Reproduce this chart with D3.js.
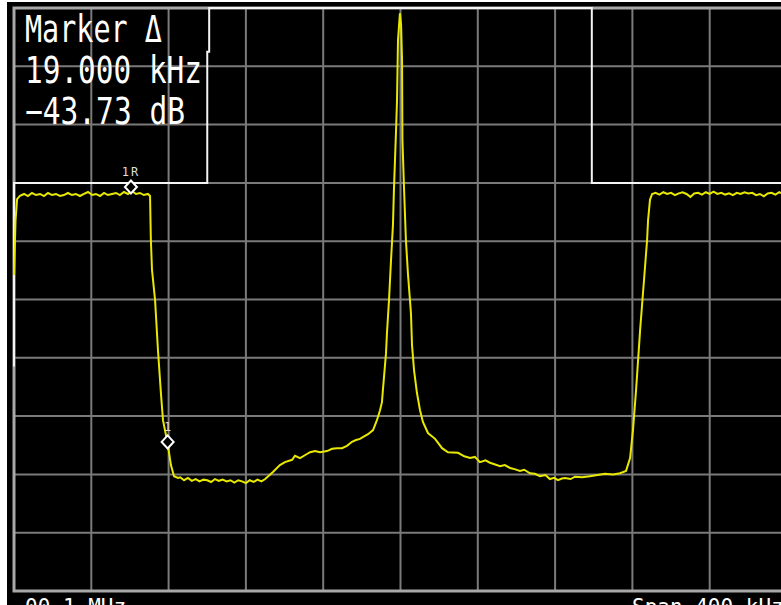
<!DOCTYPE html>
<html><head><meta charset="utf-8">
<script src="https://cdn.jsdelivr.net/npm/d3@7"></script>
<style>html,body{margin:0;padding:0;background:#fff;overflow:hidden}svg{display:block}</style>
</head><body>
<script>
// ---- data ----
const traceFreq = [-200,-199.2,-198.4,-196.9,-194.8,-192.8,-190.7,-188.6,-186.5,-184.5,-182.4,-180.3,-178.3,-176.2,-174.2,-172.1,-170,-168,-165.9,-163.8,-161.7,-159.6,-157.6,-155.5,-153.4,-151.4,-149.3,-147.2,-145.2,-143.1,-141,-139,-136.9,-134.8,-132.8,-130.7,-129.6,
 -129.2,-128.6,-127,-125.5,-123.9,-122.9,-121.4,-120.3,-118.8,-117.2,-115.1,
 -114,-112,-110,-108,-106,-104,-102,-100,-98,-96,-94,-92,-90,-88,-86,-84,-82,-80,-78,-76,-74,-72,-70,
 -66,-62.4,-59.8,-56.1,-54.6,-52,-48.4,-46.8,-44.2,-41.7,-38,-35.4,-32.9,-30.3,-27.7,-25.1,-23,-21,-18.4,-16.8,-14.2,-12.2,-10.6,-9.6,
 -9.1,-7.5,-7,-5.95,-4.9,-3.9,-3.4,-2.3,-1.8,-1.3,-0.3,
 0.3,0.8,1.0,1.8,2.8,3.9,5.4,5.95,7,8.5,10.1,11.6,14.2,17.9,21.5,24.6,29.8,
 33,36,38.5,41.1,44,46.3,49,51.5,54,56.7,59,61.8,64,67,69.5,72.2,75,77.3,79.5,81.5,83.5,85.1,88,90.3,94,98,102,105.8,110,113.6,116.7,
 118.8,120.3,121.9,124,126,127.6,128.1,129.1,130.2,
 132,134,136,138,140,142,144,146,148,150,152,154,156,158,160,162,164,166,168,170,172,174,176,178,180,182,184,186,188,190,192,194,196,198,200];
const traceLevel = [-45.8,-36.4,-32.8,-32.2,-31.9,-32.25,-31.73,-32.08,-31.9,-32.25,-31.73,-32.08,-31.9,-32.25,-32.08,-31.73,-32.08,-31.9,-32.25,-31.9,-31.56,-32.08,-31.9,-32.25,-31.73,-32.08,-31.9,-31.73,-32.08,-31.56,-31.9,-31.39,-31.9,-31.73,-32.08,-31.9,-32.25,
 -39.5,-44.9,-50.1,-58.7,-66.4,-70.7,-73.2,-75.1,-78.4,-80.3,-80.6,
 -80.5,-81.0,-80.6,-81.1,-80.8,-81.2,-80.9,-81.0,-81.3,-80.8,-81.1,-80.9,-81.2,-81.0,-81.4,-81.0,-81.2,-81.5,-81.0,-81.3,-80.9,-81.2,-80.8,
 -79.6,-78.4,-77.9,-77.5,-76.8,-77.2,-76.5,-76.2,-76.0,-76.2,-76.0,-75.6,-75.5,-75.5,-75.1,-74.4,-74.1,-73.9,-73.4,-73.1,-72.4,-70.7,-69.0,-67.6,
 -65.5,-59.2,-55.7,-50.1,-43.2,-37.2,-31.2,-20.9,-15.8,-5.5,-0.9,
 -2.9,-8.9,-22.6,-30.7,-39.8,-45.8,-52.3,-57.8,-62.1,-66.0,-69.0,-71.0,-72.9,-73.9,-75.5,-76.2,-76.3,
 -76.9,-77.2,-77.0,-77.9,-77.6,-78.0,-78.3,-78.6,-78.4,-78.9,-79.1,-79.4,-79.2,-79.8,-79.9,-80.3,-80.1,-80.8,-80.6,-81.0,-80.7,-80.6,-80.8,-80.4,-80.5,-80.3,-80.1,-79.9,-80.0,-79.8,-79.4,
 -77.2,-72.4,-65.5,-55.2,-46.7,-39.8,-36.4,-32.9,-31.9,
 -31.7,-32.0,-31.6,-31.9,-31.7,-32.1,-31.8,-31.6,-31.9,-32.4,-31.8,-31.7,-32.0,-31.6,-31.9,-31.5,-31.9,-31.7,-32.0,-31.8,-32.1,-31.7,-31.9,-31.6,-31.8,-31.7,-32.1,-31.9,-32.3,-31.8,-31.7,-32.0,-31.6,-31.9,-31.8];

const limitFreq  = [-200,-200,-100,-100,-99,-99,99,99,200];
const limitLevel = [-61.5,-30,-30,-7.5,-7.5,0,0,-30,-30];

const gridFreqs  = [-200,-160,-120,-80,-40,0,40,80,120,160,200];
const gridLevels = [0,-10,-20,-30,-40,-50,-60,-70,-80,-90,-100];

const markerNames = ["1R","1"];
const markerFreq  = [-139.5,-120.5];
const markerLevel = [-30.7,-74.43];

const readoutLines = ["Marker \u0394","19.000 kHz","\u221243.73 dB"];
const footerLeft = "00.1 MHz";
const footerRight = "Span 400 kHz";

// ---- drawing ----
const W = 781, H = 605;
const svg = d3.select("body").append("svg").attr("width", W).attr("height", H);
svg.append("rect").attr("x",0).attr("y",0).attr("width",W).attr("height",H).attr("fill","#fff");
svg.append("rect").attr("x",7).attr("y",2).attr("width",W-7).attr("height",H-2).attr("fill","#000");

const x = d3.scaleLinear().domain([-200,200]).range([14,787]);
const y = d3.scaleLinear().domain([0,-100]).range([8,591]);

const g = svg.append("g");
g.selectAll("line.v").data(gridFreqs.slice(1,-1)).join("line")
  .attr("x1",d=>x(d)).attr("x2",d=>x(d)).attr("y1",y(0)).attr("y2",y(-100))
  .attr("stroke","#7a7a7a").attr("stroke-width",2);
g.selectAll("line.h").data(gridLevels.slice(1,-1)).join("line")
  .attr("y1",d=>y(d)).attr("y2",d=>y(d)).attr("x1",x(-200)).attr("x2",x(200))
  .attr("stroke","#7a7a7a").attr("stroke-width",2);
g.append("rect").attr("x",x(-200)).attr("y",y(0)).attr("width",x(200)-x(-200)).attr("height",y(-100)-y(0))
  .attr("fill","none").attr("stroke","#a8a8a8").attr("stroke-width",3);

// limit line
const lim = limitFreq.map((f,i)=>[f,limitLevel[i]]);
svg.append("path").datum(lim)
  .attr("d", d3.line().x(d=>x(d[0])).y(d=>y(d[1])))
  .attr("fill","none").attr("stroke","#f4f4f4").attr("stroke-width",2);

// trace
const tr = traceFreq.map((f,i)=>[f,traceLevel[i]]);
svg.append("path").datum(tr)
  .attr("d", d3.line().x(d=>x(d[0])).y(d=>y(d[1])))
  .attr("fill","none").attr("stroke","#e8e800").attr("stroke-width",2).attr("stroke-linejoin","miter");

// markers
markerNames.forEach((n,i)=>{
  const cx = x(markerFreq[i]), cy = y(markerLevel[i]);
  svg.append("path").attr("d",`M${cx},${cy-6.5}L${cx+6},${cy}L${cx},${cy+6.5}L${cx-6},${cy}Z`)
    .attr("fill","#000").attr("stroke","#fff").attr("stroke-width",2);
  svg.append("text").attr("x",cx).attr("y",cy-11).attr("text-anchor","middle")
    .attr("font-family","DejaVu Sans Mono").attr("font-size",12).attr("letter-spacing",n.length>1?2:0)
    .attr("fill","#ddd").text(n);
});

// readout
const ro = [[42,137],[83,177],[124,160]];
readoutLines.forEach((t,i)=>{
  svg.append("text").attr("x",25).attr("y",ro[i][0])
    .attr("font-family","DejaVu Sans Mono").attr("font-size",37)
    .attr("textLength",ro[i][1]).attr("lengthAdjust","spacingAndGlyphs")
    .attr("fill","#fff").text(t);
});

// footer (partly below the window edge, as in the reference)
svg.append("text").attr("x",25).attr("y",614).attr("font-family","DejaVu Sans Mono").attr("font-size",21)
  .attr("fill","#fff").text(footerLeft);
svg.append("text").attr("x",632).attr("y",614).attr("font-family","DejaVu Sans Mono").attr("font-size",21)
  .attr("fill","#fff").attr("xml:space","preserve").text(footerRight);
</script>
</body></html>
